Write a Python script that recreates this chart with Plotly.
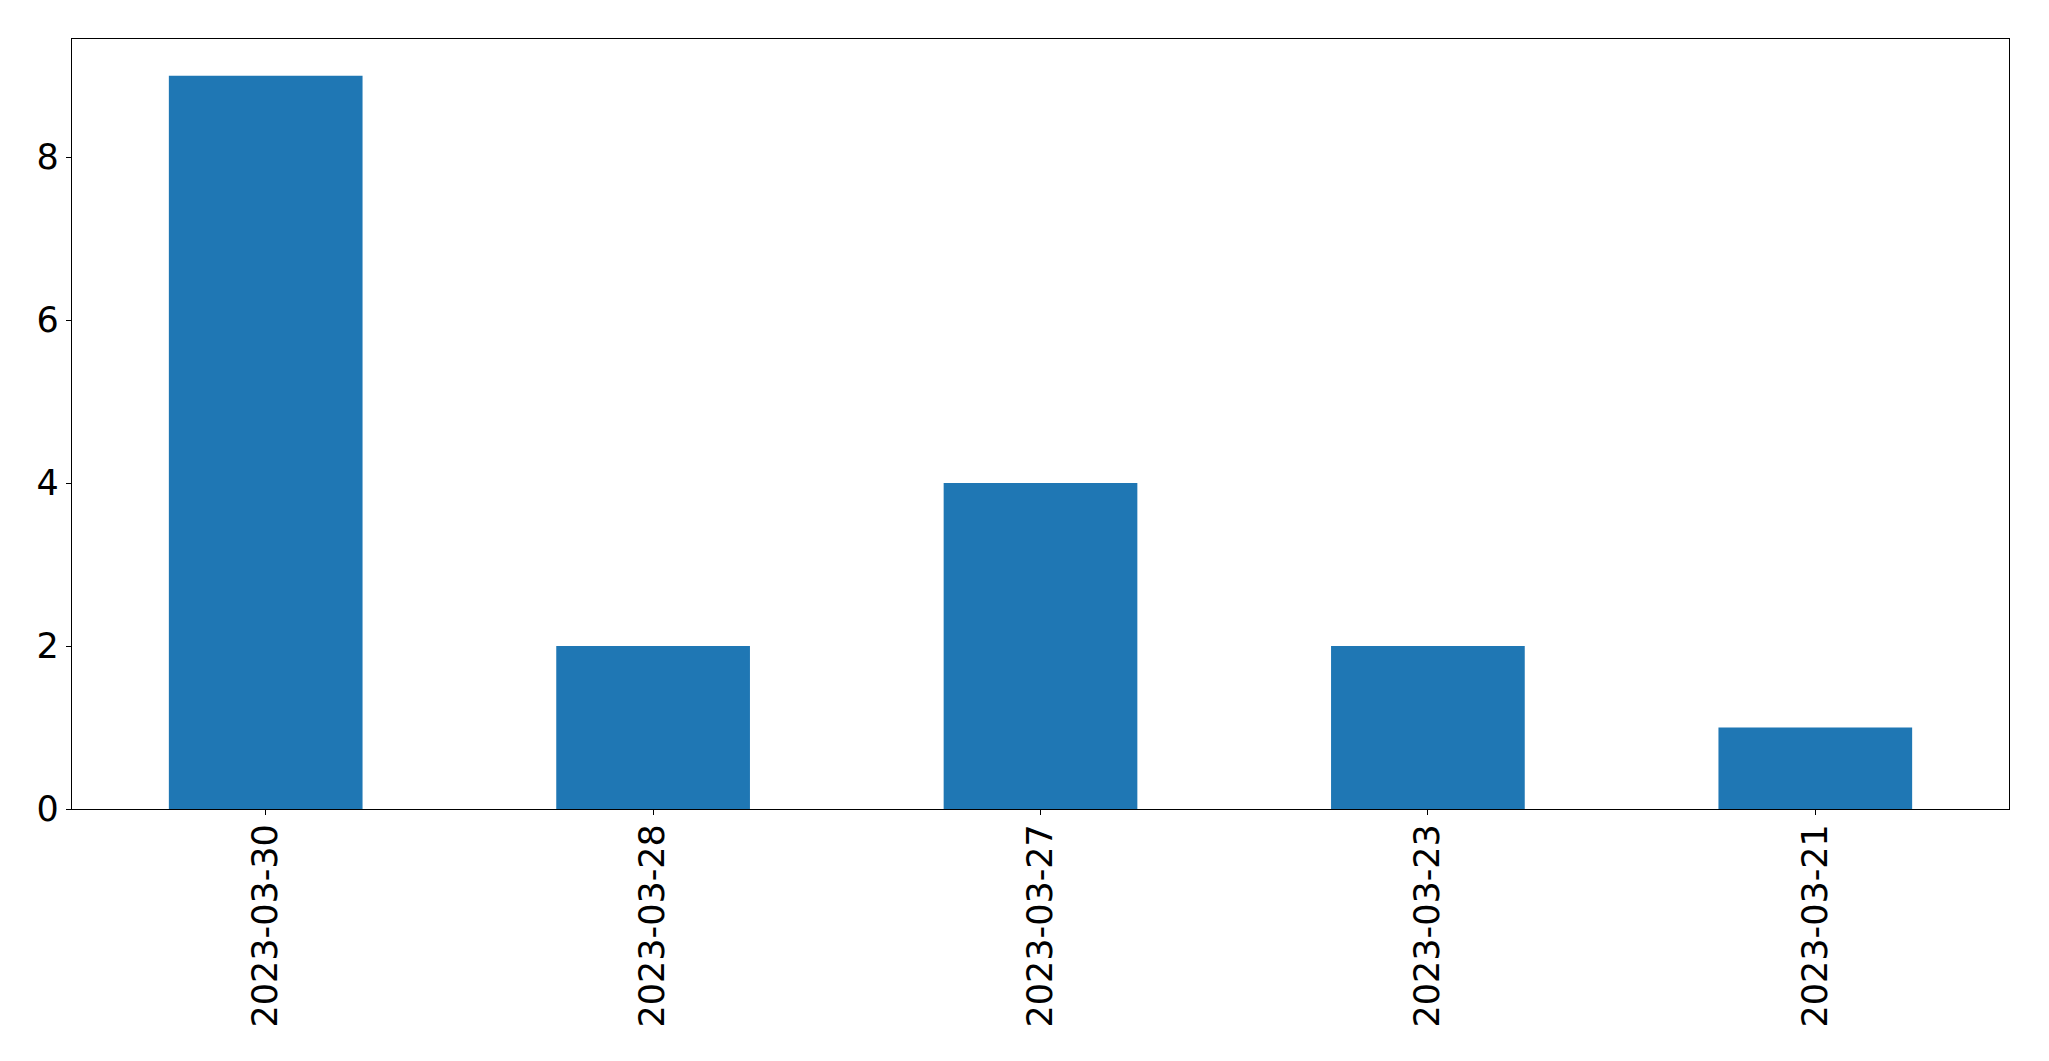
import plotly.graph_objects as go

categories = ["2023-03-30", "2023-03-28", "2023-03-27", "2023-03-23", "2023-03-21"]
values = [9, 2, 4, 2, 1]
y_ticks = [0, 2, 4, 6, 8]

fig = go.Figure(
    go.Bar(
        x=list(range(len(categories))),
        y=values,
        width=0.5,
        marker=dict(color="#1f77b4", line=dict(width=0)),
    )
)

font = dict(family="DejaVu Sans", size=35, color="black")

fig.update_layout(
    width=2033,
    height=1045,
    margin=dict(l=64, r=32, t=31, b=244),
    paper_bgcolor="white",
    plot_bgcolor="white",
    showlegend=False,
    font=font,
)

fig.update_xaxes(
    range=[-0.5, len(categories) - 0.5],
    tickmode="array",
    tickvals=list(range(len(categories))),
    ticktext=categories,
    tickangle=-90,
    ticks="outside",
    ticklen=5,
    tickwidth=1,
    tickcolor="black",
    ticklabelstandoff=-5,
    showline=True,
    linecolor="black",
    linewidth=1.3,
    mirror=True,
    showgrid=False,
    zeroline=False,
    automargin=False,
    tickfont=font,
)

fig.update_yaxes(
    range=[0, 9.45],
    tickmode="array",
    tickvals=y_ticks,
    ticktext=[str(v) for v in y_ticks],
    ticks="outside",
    ticklen=5,
    tickwidth=1,
    tickcolor="black",
    showline=True,
    linecolor="black",
    linewidth=1.3,
    mirror=True,
    showgrid=False,
    zeroline=False,
    automargin=False,
    tickfont=font,
)

fig.write_html("out.html")
